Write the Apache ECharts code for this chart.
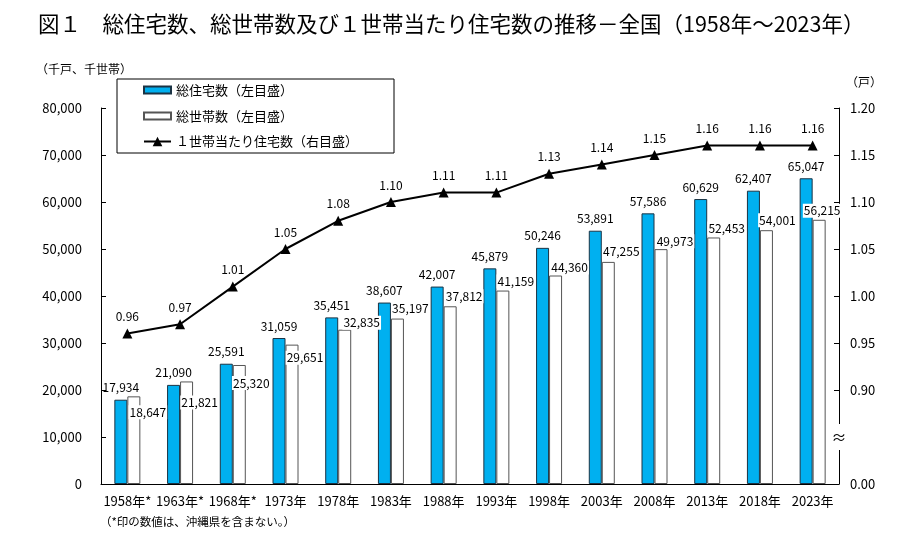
<!DOCTYPE html>
<html>
<head>
<meta charset="utf-8">
<script src="https://cdn.jsdelivr.net/npm/echarts@6/dist/echarts.min.js"></script>
<style>
html, body { margin: 0; padding: 0; background: #fff; }
#chart { width: 907px; height: 535px; }
</style>
</head>
<body>
<div id="chart"></div>
<script>
var years = ['1958年*', '1963年*', '1968年*', '1973年', '1978年', '1983年', '1988年',
	'1993年', '1998年', '2003年', '2008年', '2013年', '2018年', '2023年'];
var houses = [17934, 21090, 25591, 31059, 35451, 38607, 42007, 45879, 50246, 53891, 57586, 60629, 62407, 65047];
var households = [18647, 21821, 25320, 29651, 32835, 35197, 37812, 41159, 44360, 47255, 49973, 52453, 54001, 56215];
var perHousehold = [0.96, 0.97, 1.01, 1.05, 1.08, 1.10, 1.11, 1.11, 1.13, 1.14, 1.15, 1.16, 1.16, 1.16];

// where the household labels sit, relative to the bar (dx from centre, dy from top)
var hhLabelDx = [14, 13, 12, 13, 17, 13, 14, 13, 14, 13, 14, 13, 11, 3];
var hhLabelDy = [16, 21, 18, 13, -7, -10, -10, -9, -8, -10, -8, -9, -10, -9];

var FONT = '"Noto Sans CJK JP", "Noto Sans", sans-serif';
var BAR_W = 13;
// flat bar icon for the legend, the extra moves keep it thinner than the triangle row
var BAR_ICON = 'path://M0,0M0,2.5L27,2.5L27,9.5L0,9.5Z M27,12';

function comma(v) {
	return String(v).replace(/\B(?=(\d{3})+(?!\d))/g, ',');
}

var chart = echarts.init(document.getElementById('chart'));

var option = {
	animation: false,
	textStyle: { fontFamily: FONT, color: '#000' },
	title: {
		text: '図１　総住宅数、総世帯数及び１世帯当たり住宅数の推移－全国（1958年～2023年）',
		left: 33, top: 8,
		textStyle: { fontFamily: FONT, fontSize: 21.5, fontWeight: 'normal', color: '#000' }
	},
	legend: {
		orient: 'vertical',
		left: 117, top: 79,
		padding: [4, 36, 5, 26],
		itemGap: 12,
		itemWidth: 27, itemHeight: 12,
		borderColor: '#000', borderWidth: 1,
		selectedMode: false,
		textStyle: { fontFamily: FONT, fontSize: 13, color: '#000' },
		data: [
			{ name: '総住宅数（左目盛）', icon: BAR_ICON },
			{ name: '総世帯数（左目盛）', icon: BAR_ICON },
			{ name: '１世帯当たり住宅数（右目盛）' }
		]
	},
	grid: { left: 101, right: 68, top: 108, bottom: 51, containLabel: false },
	xAxis: {
		type: 'category',
		data: years,
		axisLine: { lineStyle: { color: '#000', width: 1 } },
		axisTick: { inside: true, length: 5, lineStyle: { color: '#000' } },
		axisLabel: { color: '#000', fontSize: 13, margin: 11, interval: 0 }
	},
	yAxis: [{
		type: 'value',
		min: 0, max: 80000, interval: 10000,
		axisLine: { show: true, lineStyle: { color: '#000' } },
		axisTick: { show: true, inside: true, length: 5, lineStyle: { color: '#000' } },
		splitLine: { show: false },
		axisLabel: { color: '#000', fontSize: 13, margin: 19, formatter: comma }
	}, {
		type: 'value',
		position: 'right',
		min: 0.8, max: 1.2, interval: 0.05,
		axisLine: { show: true, lineStyle: { color: '#000' } },
		axisTick: { show: true, inside: true, length: 5, lineStyle: { color: '#000' } },
		splitLine: { show: false },
		axisLabel: {
			color: '#000', fontSize: 13, margin: 11,
			formatter: function(v) {
				var k = Math.round(v * 100);
				if (k === 80) return '0.00';
				if (k === 85) return '';
				return (k / 100).toFixed(2);
			}
		}
	}],
	series: [{
		name: '総住宅数（左目盛）',
		type: 'bar',
		barWidth: BAR_W,
		barGap: '0%',
		data: houses,
		itemStyle: { color: '#00b0f0', borderColor: '#1a3344', borderWidth: 1 },
		label: {
			show: true, position: 'top', distance: 6,
			fontSize: 12, color: '#000', formatter: function(p) { return comma(p.value); }
		}
	}, {
		name: '総世帯数（左目盛）',
		type: 'bar',
		barWidth: BAR_W,
		barGap: '0%',
		data: households.map(function(v, i) {
			return {
				value: v,
				label: { position: [BAR_W / 2 + hhLabelDx[i], hhLabelDy[i]] }
			};
		}),
		itemStyle: { color: '#fff', borderColor: '#555', borderWidth: 1 },
		label: {
			show: true, fontSize: 12, color: '#000',
			align: 'center', verticalAlign: 'middle',
			backgroundColor: '#fff', padding: [1, 1],
			formatter: function(p) { return comma(p.value); }
		}
	}, {
		name: '１世帯当たり住宅数（右目盛）',
		type: 'line',
		yAxisIndex: 1,
		data: perHousehold,
		symbol: 'triangle',
		symbolSize: 10,
		z: 5,
		lineStyle: { color: '#000', width: 2 },
		itemStyle: { color: '#000' },
		label: {
			show: true, position: 'top', distance: 6,
			fontSize: 12, color: '#000',
			formatter: function(p) { return p.value.toFixed(2); }
		}
	}]
};

chart.setOption(option);

// axis names, footnote and the break mark on the right axis
var breakY = chart.convertToPixel({ yAxisIndex: 1 }, 0.85);
var rightX = chart.getWidth() - 68;
chart.setOption({
	graphic: [{
		type: 'text', left: 36, top: 63,
		style: { text: '（千戸、千世帯）', font: '12px ' + FONT, fill: '#000' }
	}, {
		type: 'text', left: 846, top: 76,
		style: { text: '（戸）', font: '12px ' + FONT, fill: '#000' }
	}, {
		type: 'text', left: 100, top: 516,
		style: { text: '（*印の数値は、沖縄県を含まない。）', font: '11.5px ' + FONT, fill: '#000' }
	}, {
		type: 'rect', z: 100,
		shape: { x: rightX - 7, y: breakY - 13, width: 14, height: 26 },
		style: { fill: '#fff' }
	}, {
		type: 'text', z: 101,
		x: rightX, y: breakY,
		style: { text: '≈', font: '15px ' + FONT, fill: '#000', align: 'center', verticalAlign: 'middle' }
	}]
});
</script>
</body>
</html>
